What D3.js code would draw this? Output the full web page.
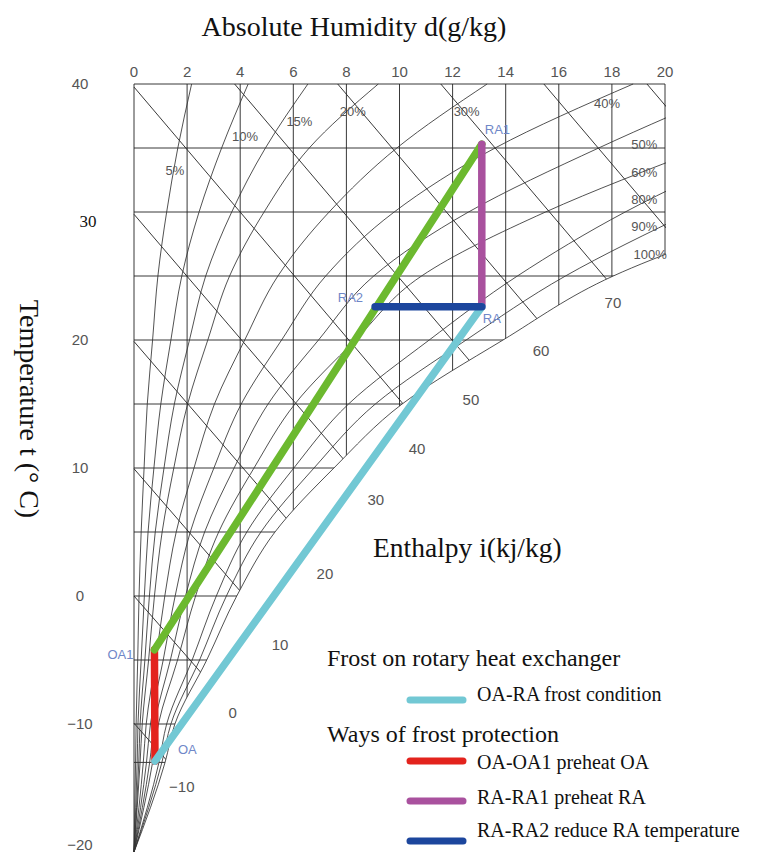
<!DOCTYPE html>
<html>
<head>
<meta charset="utf-8">
<script src="https://cdn.jsdelivr.net/npm/d3@7"></script>
<style>
  body { margin: 0; background: #fff; }
  .tick-label { font-family: 'Liberation Sans', Arial, sans-serif; fill: #555; }
  .serif { font-family: 'Liberation Serif', 'Times New Roman', serif; fill: #111; }
</style>
</head>
<body>
<div id="chart-area"></div>
<script>
// ---- Data ----
let humidityTicks = [0, 2, 4, 6, 8, 10, 12, 14, 16, 18, 20];
let tempTicks = [40, 30, 20, 10, 0, -10, -20];
let tempGrid = [40, 35, 30, 25, 20, 15, 10, 5, 0, -5, -10, -13];

// temperature rows where the relative humidity curves were read (°C)
let tRows = [-20, -13, -10, -5, 0, 5, 10, 15, 20, 25, 30, 35, 40];
// absolute humidity (g/kg) of each RH curve at those rows
let rh5 = [0, 0.06, 0.08, 0.14, 0.19, 0.27, 0.38, 0.5, 0.7, 0.9, 1.23, 1.65, 2.17];
let rh10 = [0, 0.12, 0.15, 0.27, 0.39, 0.53, 0.75, 1.01, 1.39, 1.8, 2.45, 3.3, 4.3];
let rh15 = [0, 0.18, 0.23, 0.41, 0.58, 0.8, 1.13, 1.52, 2.09, 2.7, 3.68, 4.95, 6.55];
let rh20 = [0, 0.23, 0.31, 0.55, 0.77, 1.06, 1.5, 2.02, 2.78, 3.6, 4.9, 6.6, 9.2];
let rh30 = [0, 0.35, 0.46, 0.82, 1.16, 1.59, 2.26, 3.03, 4.17, 5.42, 7.35, 9.9, 13.3];
let rh40 = [0, 0.47, 0.62, 1.1, 1.55, 2.12, 3.01, 4.04, 5.56, 7.22, 9.8, 13.6, 18.8];
let rh50 = [0, 0.59, 0.77, 1.37, 1.94, 2.66, 3.77, 5.05, 6.95, 9.03, 12.6, 17.5, 23];
let rh60 = [0, 0.7, 0.92, 1.64, 2.32, 3.19, 4.52, 6.06, 8.34, 10.83, 15.5, 21.5];
let rh80 = [0, 0.94, 1.23, 2.19, 3.1, 4.25, 6.02, 8.08, 11.12, 14.44, 18.5, 23.5];
let rh90 = [0, 1.05, 1.39, 2.47, 3.48, 4.78, 6.78, 9.09, 12.51, 16.25, 21.0];
let rh100 = [0, 1.17, 1.54, 2.74, 3.87, 5.31, 7.53, 10.1, 13.9, 18.05, 24.5];
let rhCurves = [rh5, rh10, rh15, rh20, rh30, rh40, rh50, rh60, rh80, rh90, rh100];

let rhLabels = ['5%', '10%', '15%', '20%', '30%', '40%', '50%', '60%', '80%', '90%', '100%'];
let rhLabelD = [1.54, 4.18, 6.23, 8.24, 12.53, 17.82, 19.22, 19.22, 19.22, 19.22, 19.44];
let rhLabelT = [33.3, 35.9, 37.1, 37.9, 37.9, 38.5, 35.3, 33.1, 31.0, 28.9, 26.7];

// enthalpy lines (kJ/kg) and their scale labels
let enthalpyLevels = [-10, 0, 10, 20, 30, 40, 50, 60, 70, 80, 90];
let enthalpyLabels = [70, 60, 50, 40, 30, 20, 10, 0, -10];
let enthalpyLabelD = [18.04, 15.33, 12.69, 10.66, 9.11, 7.19, 5.5, 3.72, 1.8];
let enthalpyLabelT = [22.9, 19.14, 15.31, 11.48, 7.5, 1.72, -3.83, -9.12, -14.9];

// air states
let pointNames = ['OA', 'OA1', 'RA', 'RA1', 'RA2'];
let pointD = [0.79, 0.77, 13.1, 13.1, 9.08];
let pointT = [-12.9, -4.2, 22.6, 35.3, 22.6];

// processes (drawing order)
let processFrom = ['OA', 'OA1', 'RA', 'OA', 'RA'];
let processTo = ['OA1', 'RA1', 'RA1', 'RA', 'RA2'];
let processColors = ['#e3231d', '#6cb92f', '#a9519e', '#72c8d4', '#1c469d'];

// legend
let legendHeaders = ['Frost on rotary heat exchanger', 'Ways of frost protection'];
let legendItems = ['OA-RA frost condition', 'OA-OA1 preheat OA', 'RA-RA1 preheat RA', 'RA-RA2 reduce RA temperature'];
let legendColors = ['#72c8d4', '#e3231d', '#a9519e', '#1c469d'];

// ---- SVG drawing area ----
let width = 758, height = 853;
let svg = d3.select('#chart-area').append('svg')
  .attr('width', width)
  .attr('height', height);

// Scales
let x = d3.scaleLinear().domain([0, 20]).range([134, 665]);
let y = d3.scaleLinear().domain([-20, 40]).range([852, 84]);

let curveLine = d3.line()
  .x(p => x(p[0]))
  .y(p => y(p[1]))
  .curve(d3.curveMonotoneY);

// top-to-bottom list of [d, t] for one curve
function curvePoints(values) {
  return values.map((d, i) => [d, tRows[i]]).reverse();
}

// Clips: chart frame, and the unsaturated region left of the 100% curve
let defs = svg.append('defs');
defs.append('clipPath').attr('id', 'frame-clip')
  .append('rect')
  .attr('x', x(0) - 1)
  .attr('y', y(40) - 1)
  .attr('width', x(20) - x(0) + 2)
  .attr('height', y(-20) - y(40) + 2);

let satPath = curveLine(curvePoints(rh100)) +
  `L${x(0) - 3},${y(-20)}L${x(0) - 3},${y(40) - 3}L${x(26)},${y(40) - 3}L${x(26)},${y(30)}Z`;
defs.append('clipPath').attr('id', 'sat-clip')
  .append('path').attr('d', satPath);

let frame = svg.append('g').attr('clip-path', 'url(#frame-clip)');
let grid = frame.append('g').attr('clip-path', 'url(#sat-clip)')
  .attr('stroke', '#222').attr('stroke-width', 0.9).attr('fill', 'none');

// Isotherms
grid.selectAll('.isotherm').data(tempGrid).enter().append('line')
  .attr('class', 'isotherm')
  .attr('x1', x(0)).attr('x2', x(20))
  .attr('y1', d => y(d)).attr('y2', d => y(d));

// Constant humidity lines
grid.selectAll('.iso-d').data(humidityTicks).enter().append('line')
  .attr('class', 'iso-d')
  .attr('x1', d => x(d)).attr('x2', d => x(d))
  .attr('y1', y(40)).attr('y2', y(-20));

// Enthalpy lines: i = 1.006 t + d (2.501 + 0.00186 t)
function enthalpyT(h, d) { return (h - 2.501 * d) / (1.006 + 0.00186 * d); }
function enthalpyD(h, t) { return (h - 1.006 * t) / (2.501 + 0.00186 * t); }
grid.selectAll('.isenthalp').data(enthalpyLevels).enter().append('line')
  .attr('class', 'isenthalp')
  .attr('x1', h => enthalpyT(h, 0) > 40 ? x(enthalpyD(h, 40)) : x(0))
  .attr('y1', h => enthalpyT(h, 0) > 40 ? y(40) : y(enthalpyT(h, 0)))
  .attr('x2', x(26))
  .attr('y2', h => y(enthalpyT(h, 26)));

// Relative humidity curves
frame.selectAll('.rh').data(rhCurves).enter().append('path')
  .attr('class', 'rh')
  .attr('d', v => curveLine(curvePoints(v)))
  .attr('fill', 'none')
  .attr('stroke', '#333')
  .attr('stroke-width', 0.85);

// Process lines
processFrom.forEach((from, i) => {
  let a = pointNames.indexOf(from), b = pointNames.indexOf(processTo[i]);
  svg.append('line')
    .attr('x1', x(pointD[a])).attr('y1', y(pointT[a]))
    .attr('x2', x(pointD[b])).attr('y2', y(pointT[b]))
    .attr('stroke', processColors[i])
    .attr('stroke-width', 7.5)
    .attr('stroke-linecap', 'round');
});

// Point labels
let labelAnchor = ['start', 'end', 'start', 'start', 'end'];
let labelDx = [23, -21, 1, 3, -12];
let labelDy = [-7, 9, 16, -10, -5];
svg.selectAll('.point-label').data(pointNames).enter().append('text')
  .attr('class', 'point-label')
  .attr('x', (d, i) => x(pointD[i]) + labelDx[i])
  .attr('y', (d, i) => y(pointT[i]) + labelDy[i])
  .attr('text-anchor', (d, i) => labelAnchor[i])
  .style('font-family', "'Liberation Sans', Arial, sans-serif")
  .style('font-size', '13px')
  .style('fill', '#6f87c8')
  .text(d => d);

// Top axis labels
svg.selectAll('.x-label').data(humidityTicks).enter().append('text')
  .attr('class', 'tick-label x-label')
  .attr('x', d => x(d))
  .attr('y', 77)
  .attr('text-anchor', 'middle')
  .style('font-size', '15px')
  .text(d => d);

// Left axis labels (the 30 is pasted in serif on the original)
svg.selectAll('.y-label').data(tempTicks).enter().append('text')
  .attr('class', d => d === 30 ? 'serif y-label' : 'tick-label y-label')
  .attr('x', d => d === 30 ? 88 : 80)
  .attr('y', d => d === 30 ? y(d) + 15 : Math.min(y(d) + 5, 850))
  .attr('text-anchor', 'middle')
  .style('font-size', d => d === 30 ? '17px' : '15px')
  .text(d => d < 0 ? '\u2212' + Math.abs(d) : d);

// RH labels
svg.selectAll('.rh-label').data(rhLabels).enter().append('text')
  .attr('class', 'tick-label rh-label')
  .attr('x', (d, i) => x(rhLabelD[i]))
  .attr('y', (d, i) => y(rhLabelT[i]) + 5)
  .attr('text-anchor', 'middle')
  .style('font-size', '13px')
  .text(d => d);

// Enthalpy scale labels
svg.selectAll('.i-label').data(enthalpyLabels).enter().append('text')
  .attr('class', 'tick-label i-label')
  .attr('x', (d, i) => x(enthalpyLabelD[i]))
  .attr('y', (d, i) => y(enthalpyLabelT[i]) + 5)
  .attr('text-anchor', 'middle')
  .style('font-size', '15px')
  .text(d => d < 0 ? '\u2212' + Math.abs(d) : d);

// Titles
svg.append('text').attr('class', 'serif')
  .attr('x', 354).attr('y', 36)
  .attr('text-anchor', 'middle')
  .style('font-size', '28px')
  .text('Absolute Humidity d(g/kg)');

svg.append('text').attr('class', 'serif')
  .attr('transform', 'translate(20,409) rotate(90)')
  .attr('text-anchor', 'middle')
  .style('font-size', '28px')
  .text('Temperature t (\u00b0 C)');

svg.append('text').attr('class', 'serif')
  .attr('x', 373).attr('y', 557)
  .style('font-size', '27.5px')
  .text('Enthalpy i(kj/kg)');

// Legend
let legendHeaderY = [666, 742];
let legendItemY = [701, 769, 804, 837];
let legendSwatchY = [700, 761, 801, 841];
svg.selectAll('.legend-header').data(legendHeaders).enter().append('text')
  .attr('class', 'serif legend-header')
  .attr('x', 327)
  .attr('y', (d, i) => legendHeaderY[i])
  .style('font-size', '24px')
  .text(d => d);

let items = svg.selectAll('.legend-item').data(legendItems).enter().append('g')
  .attr('class', 'legend-item');
items.append('line')
  .attr('x1', 410).attr('x2', 463)
  .attr('y1', (d, i) => legendSwatchY[i]).attr('y2', (d, i) => legendSwatchY[i])
  .attr('stroke', (d, i) => legendColors[i])
  .attr('stroke-width', 7)
  .attr('stroke-linecap', 'round');
items.append('text')
  .attr('class', 'serif')
  .attr('x', 477)
  .attr('y', (d, i) => legendItemY[i])
  .style('font-size', '20px')
  .text(d => d);
</script>
</body>
</html>
